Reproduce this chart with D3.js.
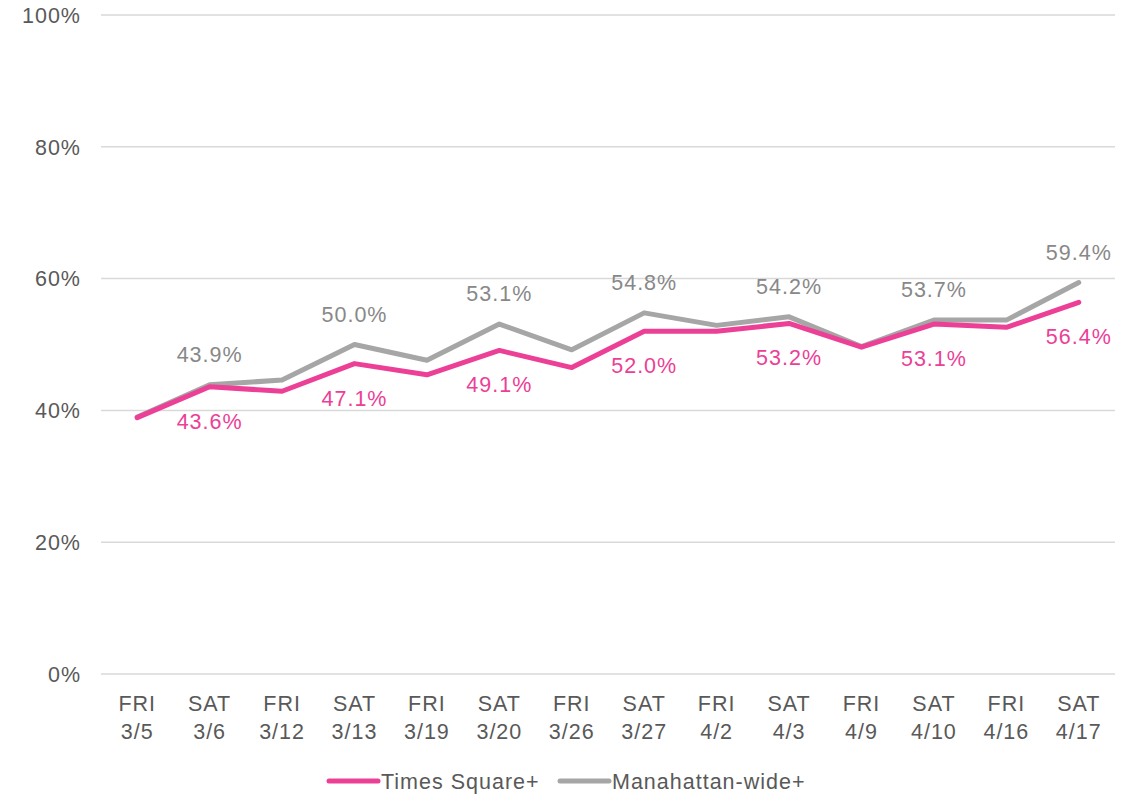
<!DOCTYPE html>
<html><head><meta charset="utf-8">
<script src="https://cdn.jsdelivr.net/npm/d3@7"></script>
<style>body{margin:0;background:#fff}text{font-family:"Liberation Sans",Arial,sans-serif;letter-spacing:1px}</style>
</head><body><svg id="c" width="1133" height="795"></svg>
<script>
const days = ["FRI","SAT","FRI","SAT","FRI","SAT","FRI","SAT","FRI","SAT","FRI","SAT","FRI","SAT"];
const dates = ["3/5","3/6","3/12","3/13","3/19","3/20","3/26","3/27","4/2","4/3","4/9","4/10","4/16","4/17"];
const timesSquare = [38.9,43.6,42.9,47.1,45.4,49.1,46.5,52.0,52.0,53.2,49.6,53.1,52.6,56.4];
const manhattan = [39.0,43.9,44.6,50.0,47.6,53.1,49.2,54.8,52.9,54.2,49.7,53.7,53.7,59.4];
const yTicks = [0,20,40,60,80,100];
const seriesNames = ["Times Square+","Manahattan-wide+"];
const colors = ["#EC4097","#A6A6A6"];

const FS = 21.5;
const svg = d3.select("#c");
const mLeft = 101, mRight = 1115, mTop = 15, mBottom = 674;
const x = d3.scaleBand().domain(d3.range(dates.length)).range([mLeft,mRight]);
const y = d3.scaleLinear().domain([0,100]).range([mBottom,mTop]);
const cx = i => x(i) + x.bandwidth()/2;

// gridlines
svg.append("g").selectAll("line").data(yTicks).join("line")
  .attr("x1",mLeft).attr("x2",mRight).attr("y1",d=>y(d)).attr("y2",d=>y(d))
  .attr("stroke","#D9D9D9").attr("stroke-width",1.5);
svg.append("g").selectAll("text").data(yTicks).join("text")
  .attr("x",81).attr("y",d=>y(d)).attr("dy","0.36em").attr("text-anchor","end")
  .attr("font-size",FS).attr("fill","#595959").text(d=>d+"%");

// x labels
const xl = svg.append("g").selectAll("text").data(dates).join("text")
  .attr("x",(d,i)=>cx(i)).attr("text-anchor","middle").attr("font-size",FS).attr("fill","#595959");
xl.append("tspan").attr("x",(d,i)=>cx(i)).attr("y",711).text((d,i)=>days[i]);
xl.append("tspan").attr("x",(d,i)=>cx(i)).attr("y",739).text(d=>d);

const line = d3.line().x((d,i)=>cx(i)).y(d=>y(d));
[manhattan, timesSquare].forEach((s,k)=>{
  svg.append("path").datum(s).attr("d",line).attr("fill","none")
    .attr("stroke", k===0?colors[1]:colors[0]).attr("stroke-width",5)
    .attr("stroke-linejoin","round").attr("stroke-linecap","round");
});

// data labels on SAT points
const sat = d3.range(dates.length).filter(i=>i%2===1);
svg.append("g").selectAll("text").data(sat).join("text")
  .attr("x",i=>cx(i)).attr("y",i=>y(manhattan[i])-23).attr("text-anchor","middle")
  .attr("font-size",FS).attr("fill","#888888").text(i=>manhattan[i].toFixed(1)+"%");
svg.append("g").selectAll("text").data(sat).join("text")
  .attr("x",i=>cx(i)).attr("y",i=>y(timesSquare[i])+42).attr("text-anchor","middle")
  .attr("font-size",FS).attr("fill","#EC4097").text(i=>timesSquare[i].toFixed(1)+"%");

// legend
const lg = [{x:329,name:seriesNames[0],c:colors[0]},{x:560,name:seriesNames[1],c:colors[1]}];
const g = svg.append("g").selectAll("g").data(lg).join("g");
g.append("line").attr("x1",d=>d.x).attr("x2",d=>d.x+49).attr("y1",781).attr("y2",781)
  .attr("stroke",d=>d.c).attr("stroke-width",5).attr("stroke-linecap","round");
g.append("text").attr("x",d=>d.x+52).attr("y",781).attr("dy","0.36em").attr("font-size",FS)
  .attr("fill","#595959").text(d=>d.name);
</script></body></html>
